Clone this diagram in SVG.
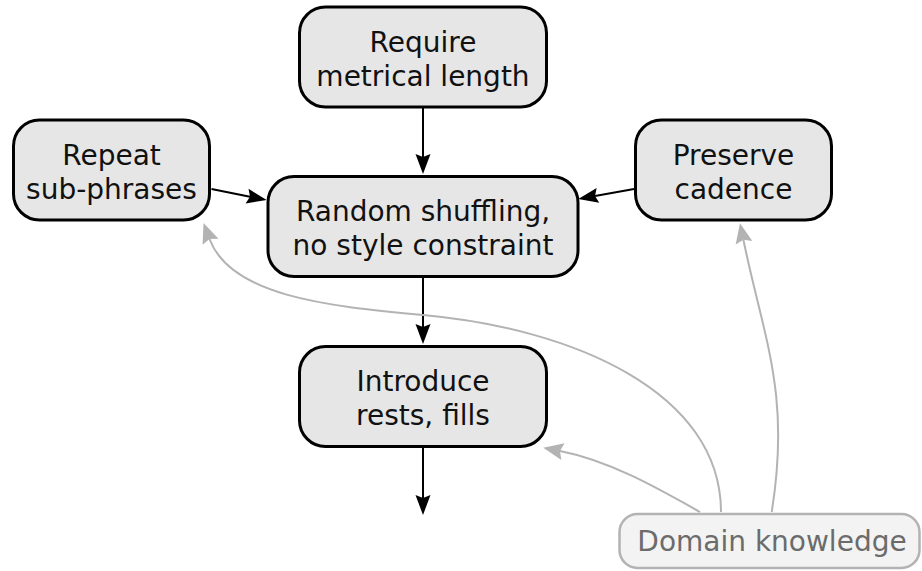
<svg xmlns="http://www.w3.org/2000/svg" width="922" height="571" viewBox="0 0 922 571">
  <style>
    .node rect { fill: #e6e6e6; stroke: #000; stroke-width: 3; }
    .node text { font-family: "DejaVu Sans", sans-serif; font-size: 28px; fill: #111; text-anchor: middle; }
    .aux rect { fill: #f3f3f3; stroke: #b3b3b3; stroke-width: 2.5; }
    .aux text { font-family: "DejaVu Sans", sans-serif; font-size: 28px; fill: #6b6b6b; text-anchor: middle; }
    .e { fill: none; stroke: #000; stroke-width: 2; marker-end: url(#ab); }
    .g { fill: none; stroke: #b3b3b3; stroke-width: 2; marker-end: url(#ag); }
  </style>
  <defs>
    <marker id="ab" markerUnits="userSpaceOnUse" markerWidth="24" markerHeight="20" viewBox="-1 -10 24 20" refX="3" refY="0" orient="auto">
      <path d="M0,-7.5 L20,0 L0,7.5 L3,0 Z" fill="#000"/>
    </marker>
    <marker id="ag" markerUnits="userSpaceOnUse" markerWidth="24" markerHeight="20" viewBox="-1 -10 24 20" refX="3" refY="0" orient="auto">
      <path d="M0,-8.5 L20,0 L0,8.5 L3,0 Z" fill="#b3b3b3"/>
    </marker>
  </defs>

  <g id="connectors">
    <path class="e" d="M423,108 L423,157"/>
    <path class="e" d="M423,278 L423,327"/>
    <path class="e" d="M423,448 L423,498"/>
    <path class="e" d="M211.5,189 L250,196.7"/>
    <path class="e" d="M634,189 L595,196"/>
    <path class="g" d="M721,512 C721,392 573,328.5 423,315 C323,306 230.5,295 209.5,239"/>
    <path class="g" d="M700,512 C656.5,487.5 609,460.5 560,451"/>
    <path class="g" d="M771.7,512 C791,393 763.4,337.8 743.4,239.8"/>
  </g>

  <g id="require" class="node">
    <rect x="299.5" y="7" width="247" height="100" rx="26"/>
    <text x="423" y="51.5">Require</text>
    <text x="423" y="85.5">metrical length</text>
  </g>
  <g id="random" class="node">
    <rect x="268" y="176.5" width="310" height="100" rx="26"/>
    <text x="423" y="221">Random shuffling,</text>
    <text x="423" y="255">no style constraint</text>
  </g>
  <g id="repeat" class="node">
    <rect x="13.5" y="120" width="196" height="100" rx="26"/>
    <text x="111.5" y="164.5">Repeat</text>
    <text x="111.5" y="198.5">sub-phrases</text>
  </g>
  <g id="preserve" class="node">
    <rect x="635.5" y="120" width="196" height="100" rx="26"/>
    <text x="733.5" y="164.5">Preserve</text>
    <text x="733.5" y="198.5">cadence</text>
  </g>
  <g id="introduce" class="node">
    <rect x="299.5" y="346.5" width="247" height="100" rx="26"/>
    <text x="423" y="391">Introduce</text>
    <text x="423" y="425">rests, fills</text>
  </g>
  <g id="domain" class="aux">
    <rect x="619.5" y="514" width="300" height="54" rx="18"/>
    <text x="772" y="550.5">Domain knowledge</text>
  </g>
</svg>
